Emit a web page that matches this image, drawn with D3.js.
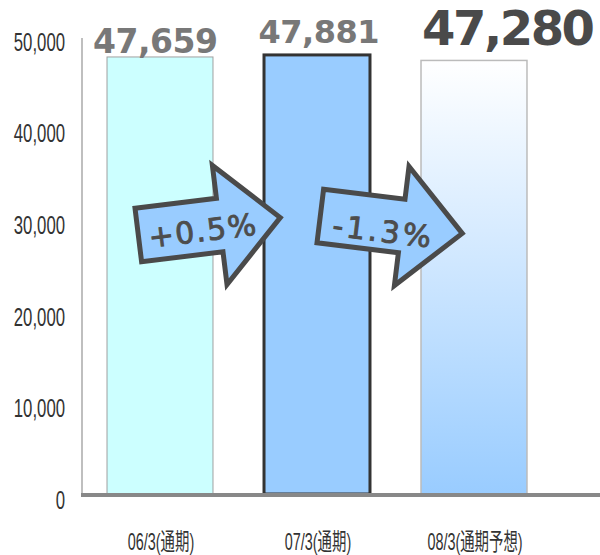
<!DOCTYPE html>
<html><head><meta charset="utf-8">
<script src="https://cdn.jsdelivr.net/npm/d3@7"></script>
<style>html,body{margin:0;padding:0;background:#fff;}svg{display:block;}</style>
</head><body>
<svg id="c" width="600" height="555"></svg>
<script>
// ---- data ----
const categories = ["06/3(通期)", "07/3(通期)", "08/3(通期予想)"];
const values = [47659, 47881, 47280];
const yTicks = [0, 10000, 20000, 30000, 40000, 50000];

// ---- layout ----
const svg = d3.select("#c");
const x = d3.scaleBand().domain(categories).range([81.5, 552.5]).paddingInner(0.325).paddingOuter(0.1625);
const y = d3.scaleLinear().domain([0, 50000]).range([494, 35.5]);

const defs = svg.append("defs");
const grad = defs.append("linearGradient").attr("id", "g3").attr("x1", 0).attr("x2", 0).attr("y1", 0).attr("y2", 1);
grad.append("stop").attr("offset", "0%").attr("stop-color", "#ffffff");
grad.append("stop").attr("offset", "100%").attr("stop-color", "#99ccff");

// y axis
const yAxis = svg.append("g").attr("transform", "translate(82,0)")
  .call(d3.axisLeft(y).tickValues(yTicks).tickSize(0).tickFormat(d3.format(",")));
yAxis.select(".domain").remove();
const sx = 0.67;
yAxis.selectAll(".tick text")
  .attr("font-family", "'Liberation Sans', Arial, sans-serif")
  .attr("font-size", 25)
  .attr("fill", "#333")
  .attr("text-anchor", "end")
  .attr("dy", null)
  .attr("x", -17 / sx)
  .attr("y", 14.5)
  .attr("transform", `scale(${sx},1)`);
svg.append("line").attr("x1", 82).attr("x2", 82).attr("y1", 38).attr("y2", 494)
  .attr("stroke", "#aaa").attr("stroke-width", 1.5);

// bars
const fills = ["#ccffff", "#99ccff", "url(#g3)"];
const strokes = ["#a0a0a0", "#333333", "#bbbbbb"];
const sw = [1, 3, 1.5];
svg.selectAll("rect.bar").data(values).join("rect").attr("class", "bar")
  .attr("x", (d, i) => x(categories[i]))
  .attr("width", x.bandwidth())
  .attr("y", d => y(d))
  .attr("height", d => y(0) - y(d))
  .attr("fill", (d, i) => fills[i])
  .attr("stroke", (d, i) => strokes[i])
  .attr("stroke-width", (d, i) => sw[i]);

// baseline
svg.append("line").attr("x1", 81).attr("x2", 600).attr("y1", 495).attr("y2", 495)
  .attr("stroke", "#888").attr("stroke-width", 4);

// category labels
const cx = 0.6;
svg.selectAll("text.cat").data(categories).join("text").attr("class", "cat")
  .attr("font-family", "'Liberation Sans', 'Noto Sans CJK JP', sans-serif")
  .attr("font-size", 24)
  .attr("fill", "#333")
  .attr("text-anchor", "middle")
  .attr("transform", (d) => `translate(${x(d) + x.bandwidth() / 2 + 1},550) scale(${cx},1)`)
  .text(d => d);

// value labels
const vDx = [-4.5, 2, 34.5];
const vY = [53, 43, 45];
const vSize = [33, 32, 48];
const vLen = [125, 121, 173];
const vCol = ["#787878", "#787878", "#4a4a4a"];
svg.selectAll("text.val").data(values).join("text").attr("class", "val")
  .attr("font-family", "'DejaVu Sans', Verdana, sans-serif")
  .attr("font-weight", "bold")
  .attr("font-size", (d, i) => vSize[i])
  .attr("fill", (d, i) => vCol[i])
  .attr("text-anchor", "middle")
  .attr("x", (d, i) => x(categories[i]) + x.bandwidth() / 2 + vDx[i])
  .attr("y", (d, i) => vY[i])
  .attr("textLength", (d, i) => vLen[i])
  .attr("lengthAdjust", "spacing")
  .text(d3.format(","));

// change arrows
const changes = values.slice(1).map((v, i) => (v - values[i]) / values[i]);
const fmtPct = v => (v >= 0 ? "+" : "-") + Math.abs(v * 100).toFixed(1) + "%";
const arrowPos = [[179, 230, -7], [361, 221, 7]];
const arrowText = [[23, 3, 108], [22, 7, 99]];
const arrowPath = "M-41,-27 L41,-27 L41,-60 L102,0 L41,60 L41,27 L-41,27 Z";
changes.forEach((c, i) => {
  const [ax, ay, rot] = arrowPos[i];
  const g = svg.append("g").attr("transform", `translate(${ax},${ay}) rotate(${rot})`);
  g.append("path").attr("d", arrowPath).attr("fill", "#99ccff")
    .attr("stroke", "#4a4a4a").attr("stroke-width", 5).attr("stroke-linejoin", "miter");
  const [tx, ty, tl] = arrowText[i];
  g.append("text").attr("x", tx).attr("y", ty + 11)
    .attr("font-family", "'DejaVu Sans', Verdana, sans-serif")
    .attr("font-size", 30)
    .attr("fill", "#4d4d4d")
    .attr("stroke", "#4d4d4d")
    .attr("stroke-width", 0.9)
    .attr("text-anchor", "middle")
    .attr("textLength", tl)
    .attr("lengthAdjust", "spacing")
    .text(fmtPct(c));
});
</script>
</body></html>
